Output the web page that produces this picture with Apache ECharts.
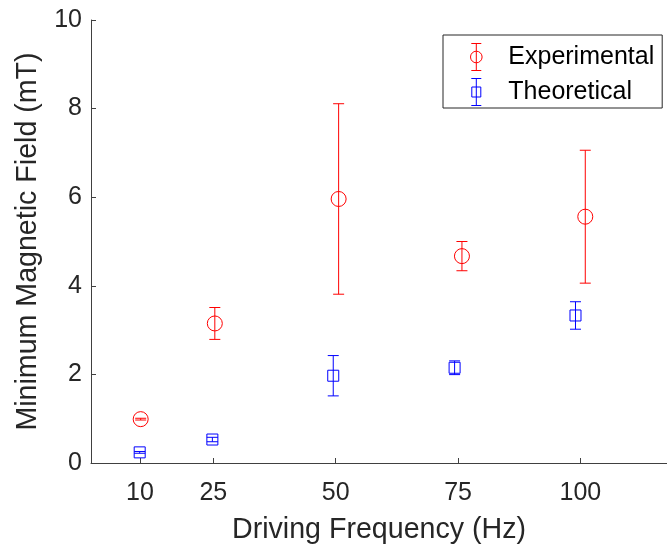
<!DOCTYPE html>
<html>
<head>
<meta charset="utf-8">
<script src="https://cdn.jsdelivr.net/npm/echarts@6/dist/echarts.min.js"></script>
<style>
  html, body { margin: 0; padding: 0; background: #fff; }
  #chart { width: 667px; height: 550px; }
</style>
</head>
<body>
<div id="chart"></div>
<script>
// Driving frequencies (Hz) at which each series was plotted (slightly offset for readability)
const expFreq = [10.15, 25.3, 50.6, 75.8, 101.0];
const theoFreq = [9.95, 24.8, 49.5, 74.3, 99.0];

// Minimum magnetic field (mT) and its uncertainty
const expField = [0.99, 3.15, 5.96, 4.67, 5.56];
const expErr = [0.02, 0.36, 2.15, 0.33, 1.50];
const theoField = [0.24, 0.53, 1.97, 2.15, 3.33];
const theoErr = [0.02, 0.05, 0.455, 0.155, 0.31];

// Axis tick labels
const freqTicks = [10, 25, 50, 75, 100];

const RED = '#ff0000';
const BLUE = '#0000ff';
const INK = '#262626';
const FONT = '"Liberation Sans", Arial, Helvetica, sans-serif';

function points(xs, ys) {
  return xs.map((x, i) => [x, ys[i]]);
}
function errRows(xs, ys, es) {
  return xs.map((x, i) => [x, ys[i] - es[i], ys[i] + es[i]]);
}

// Vertical error bar with caps, positioned through the axis scales
function errorBar(color) {
  return function (params, api) {
    const lo = api.coord([api.value(0), api.value(1)]);
    const hi = api.coord([api.value(0), api.value(2)]);
    const half = 5.5;
    const style = { stroke: color, lineWidth: 1, fill: null };
    return {
      type: 'group',
      children: [
        { type: 'line', shape: { x1: hi[0], y1: hi[1], x2: lo[0], y2: lo[1] }, style },
        { type: 'line', shape: { x1: hi[0] - half, y1: hi[1], x2: hi[0] + half, y2: hi[1] }, style },
        { type: 'line', shape: { x1: lo[0] - half, y1: lo[1], x2: lo[0] + half, y2: lo[1] }, style }
      ]
    };
  };
}

const circleIcon = 'path://M0,0 L10,0 M5,0 L5,27 M0,27 L10,27 M10.8,13.5 A5.8,5.8 0 1 1 -0.8,13.5 A5.8,5.8 0 1 1 10.8,13.5 Z';
const squareIcon = 'path://M0,0 L10,0 M5,0 L5,27 M0,27 L10,27 M0.5,8.5 L9.5,8.5 L9.5,18.5 L0.5,18.5 Z';

const chart = echarts.init(document.getElementById('chart'), null, { renderer: 'canvas' });

chart.setOption({
  animation: false,
  backgroundColor: '#ffffff',
  textStyle: { fontFamily: FONT, color: INK },
  // the frequency axis runs on past the right edge of the figure
  grid: { left: 91, top: 20, right: 0, height: 443 },
  legend: {
    orient: 'vertical',
    left: 443,
    top: 35,
    padding: [6, 8, 0, 25],
    itemGap: 3,
    itemWidth: 54,
    itemHeight: 27,
    backgroundColor: '#ffffff',
    borderColor: INK,
    borderWidth: 1,
    textStyle: { fontFamily: FONT, fontSize: 25, color: '#000' },
    data: [
      { name: 'Experimental', icon: circleIcon,
        itemStyle: { color: 'none', borderColor: RED, borderWidth: 1 } },
      { name: 'Theoretical', icon: squareIcon,
        itemStyle: { color: 'none', borderColor: BLUE, borderWidth: 1 } }
    ]
  },
  xAxis: {
    type: 'value',
    min: 0,
    max: 117.7,
    name: 'Driving Frequency (Hz)',
    nameLocation: 'middle',
    nameGap: 53,
    nameTextStyle: { fontFamily: FONT, fontSize: 28.6, color: INK },
    axisLine: { show: true, lineStyle: { color: '#404040', width: 1 } },
    axisTick: { show: true, inside: true, length: 5, customValues: freqTicks,
      lineStyle: { color: '#404040' } },
    axisLabel: { customValues: freqTicks, margin: 18, fontSize: 25, color: INK, fontFamily: FONT },
    splitLine: { show: false }
  },
  yAxis: {
    type: 'value',
    min: 0,
    max: 10,
    interval: 2,
    name: 'Minimum Magnetic Field (mT)',
    nameLocation: 'middle',
    nameGap: 48,
    nameTextStyle: { fontFamily: FONT, fontSize: 28.6, color: INK },
    axisLine: { show: true, lineStyle: { color: '#404040', width: 1 } },
    axisTick: { show: true, inside: true, length: 5, lineStyle: { color: '#404040' } },
    axisLabel: { margin: 9, fontSize: 25, color: INK, fontFamily: FONT },
    splitLine: { show: false }
  },
  series: [
    {
      name: 'Experimental',
      type: 'custom',
      renderItem: errorBar(RED),
      data: errRows(expFreq, expField, expErr),
      encode: { x: 0, y: [1, 2] },
      z: 2
    },
    {
      name: 'Theoretical',
      type: 'custom',
      renderItem: errorBar(BLUE),
      data: errRows(theoFreq, theoField, theoErr),
      encode: { x: 0, y: [1, 2] },
      z: 2
    },
    {
      name: 'Experimental',
      type: 'scatter',
      symbol: 'circle',
      symbolSize: 15,
      itemStyle: { color: 'rgba(0,0,0,0)', borderColor: RED, borderWidth: 1, opacity: 1 },
      data: points(expFreq, expField),
      z: 3
    },
    {
      name: 'Theoretical',
      type: 'scatter',
      symbol: 'rect',
      symbolSize: [11, 11],
      itemStyle: { color: 'rgba(0,0,0,0)', borderColor: BLUE, borderWidth: 1, opacity: 1 },
      data: points(theoFreq, theoField),
      z: 3
    }
  ]
});
</script>
</body>
</html>
